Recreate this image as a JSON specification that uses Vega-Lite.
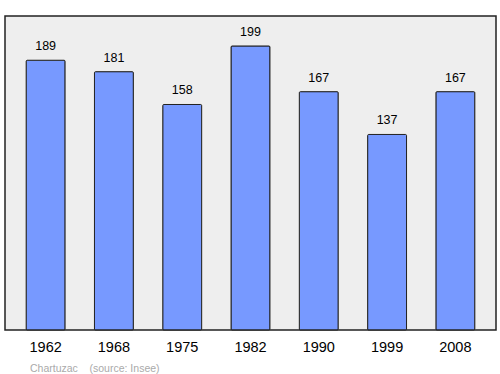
{
  "$schema": "https://vega.github.io/schema/vega-lite/v6.json",
  "width": 491,
  "height": 314,
  "autosize": {"type": "none"},
  "padding": {"left": 5, "top": 16, "right": 4, "bottom": 44},
  "background": "white",
  "config": {
    "view": {"fill": "#eeeeee", "stroke": "#222222", "strokeWidth": 1.5},
    "font": "Liberation Sans"
  },
  "title": {
    "text": "Chartuzac\u00a0\u00a0\u00a0\u00a0(source: Insee)",
    "orient": "bottom",
    "anchor": "start",
    "dx": 25,
    "offset": 10,
    "fontSize": 10.5,
    "fontWeight": "normal",
    "color": "#aaaaaa",
    "font": "Liberation Sans"
  },
  "data": {
    "values": [
      {"year": "1962", "pop": 189},
      {"year": "1968", "pop": 181},
      {"year": "1975", "pop": 158},
      {"year": "1982", "pop": 199},
      {"year": "1990", "pop": 167},
      {"year": "1999", "pop": 137},
      {"year": "2008", "pop": 167}
    ]
  },
  "encoding": {
    "x": {
      "field": "year",
      "type": "nominal",
      "sort": null,
      "scale": {"paddingInner": 0.43, "paddingOuter": 0.31},
      "axis": {
        "title": null,
        "labelAngle": 0,
        "ticks": false,
        "domain": false,
        "labelFontSize": 14.5,
        "labelColor": "#000000",
        "labelPadding": 10,
        "labelFont": "Liberation Sans"
      }
    },
    "y": {
      "field": "pop",
      "type": "quantitative",
      "scale": {"domain": [0, 220], "nice": false},
      "axis": null
    }
  },
  "layer": [
    {
      "mark": {"type": "bar", "fill": "#7799ff", "stroke": "#222222", "strokeWidth": 1, "cornerRadius": 1}
    },
    {
      "mark": {"type": "text", "baseline": "alphabetic", "dy": -10, "fontSize": 12.5, "color": "#000000", "font": "Liberation Sans"},
      "encoding": {"text": {"field": "pop", "type": "quantitative"}}
    }
  ]
}
